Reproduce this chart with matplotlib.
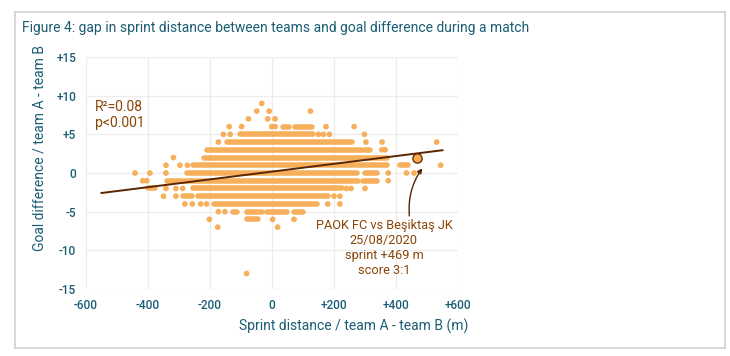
import matplotlib
matplotlib.use("Agg")
import matplotlib.pyplot as plt
from matplotlib.patches import Rectangle

# ---------------- data ----------------
goal_rows = [9, 8, 7, 6, 5, 4, 3, 2, 1, 0, -1, -2, -3, -4, -5, -6, -7, -13]
# isolated matches (sprint gap, m) per goal-difference row
row_points = {
    9: [-33],
    8: [-49, -9, 124],
    7: [-76, -14, 10],
    6: [-138, -98, -1, 10, 174, 265],
    5: [-157, -135, 150, 166, 185, 298],
    4: [-173, 303, 355, 531],
    3: [354, 365],
    2: [-318],
    1: [-342, -297, -273, 544],
    0: [-442, -394, -342, 375, 434, 458],
    -1: [-417, -404, 375],
    -2: [-342, -310, -288, 240, 255, 300],
    -3: [-350, -310, 200, 219],
    -4: [-281, -257, -230, -211, 180, 219],
    -5: [-173, -152],
    -6: [-202, 2, 71],
    -7: [-175, 18],
    -13: [-82],
}
# dense runs of overlapping matches (start, end) per row
row_runs = {
    6: [(36, 55), (74, 128)],
    5: [(-103, 133)],
    4: [(-146, 257)],
    3: [(-211, 290), (300, 316)],
    2: [(-219, 370)],
    1: [(-254, 370), (413, 439)],
    0: [(-275, 273), (300, 338)],
    -1: [(-338, 277), (292, 338)],
    -2: [(-400, -377), (-254, 225)],
    -3: [(-286, -259), (-240, 180)],
    -4: [(-186, 144)],
    -5: [(-125, -114), (-82, -33), (-17, 47), (71, 101)],
    -6: [(-82, -44)],
}
highlight_x, highlight_y = 469, 2
fit_x = [-550, 550]
fit_slope, fit_intercept = 0.00503, 0.18
x_ticks = [-600, -400, -200, 0, 200, 400, 600]
x_labels = ["-600", "-400", "-200", "0", "+200", "+400", "+600"]
y_ticks = [-15, -10, -5, 0, 5, 10, 15]
y_labels = ["-15", "-10", "-5", "0", "+5", "+10", "+15"]

# ---------------- style ----------------
plt.rcParams['font.family'] = ['Roboto', 'DejaVu Sans']
teal = '#1b5d74'
dot_c = '#f6a94e'
brown_txt = '#8a4508'
brown_line = '#5a2500'

fig = plt.figure(figsize=(7.3, 3.56), dpi=100)
fig.patch.set_facecolor('white')
fig.add_artist(Rectangle((15 / 730, 1 - 348 / 356), 710 / 730, 336 / 356,
                         transform=fig.transFigure, fill=False,
                         edgecolor='#cfcfcf', lw=1.2))
fig.text(22 / 730, 1 - 28 / 356,
         "Figure 4: gap in sprint distance between teams and goal difference during a match",
         color=teal, fontsize=10, va='center', ha='left')

ax = fig.add_axes([86 / 730, 1 - 289 / 356, 372 / 730, 232 / 356])
ax.set_xlim(-600, 600)
ax.set_ylim(-15, 15)
for s in ax.spines.values():
    s.set_visible(False)
ax.set_xticks(x_ticks)
ax.set_xticklabels(x_labels)
ax.set_yticks(y_ticks)
ax.set_yticklabels(y_labels)
ax.tick_params(length=0, colors=teal, labelsize=8.5, pad=7)
for lab in ax.get_xticklabels() + ax.get_yticklabels():
    lab.set_fontweight('medium')
ax.grid(True, color='#ececec', lw=0.9)
ax.set_axisbelow(True)

for y in goal_rows:
    for (a, b) in row_runs.get(y, []):
        ax.plot([a, b], [y, y], color=dot_c, lw=4.0, solid_capstyle='round',
                alpha=0.92, zorder=2)
    xs = row_points.get(y, [])
    ax.scatter(xs, [y] * len(xs), s=17, color=dot_c, edgecolors='none',
               alpha=0.92, zorder=2)

ax.plot(fit_x, [fit_slope * v + fit_intercept for v in fit_x],
        color=brown_line, lw=1.4, zorder=3)
ax.scatter([highlight_x], [highlight_y], s=45, color=dot_c,
           edgecolors=brown_line, linewidths=0.9, zorder=4)

ax.text(-570, 9.4, "R²=0.08\np<0.001", color=brown_txt, fontsize=10,
        va='top', ha='left', linespacing=1.15)
ax.text(361, -5.9, "PAOK FC vs Beşiktaş JK\n25/08/2020\nsprint +469 m\nscore 3:1",
        color=brown_txt, fontsize=9.2, va='top', ha='center', linespacing=1.2)
ax.annotate("", xy=(490, 0.9), xytext=(444, -5.9),
            arrowprops=dict(arrowstyle='-|>', color=brown_line, lw=1.0,
                            mutation_scale=7,
                            connectionstyle='arc3,rad=-0.2'))

fig.text(40 / 730, 1 - 148 / 356, "Goal difference / team A - team B",
         rotation=90, color=teal, fontsize=10, va='center', ha='center')
fig.text(468 / 730, 1 - 326 / 356, "Sprint distance / team A - team B (m)",
         color=teal, fontsize=10, va='center', ha='right')

fig.savefig("out.png", dpi=100)
